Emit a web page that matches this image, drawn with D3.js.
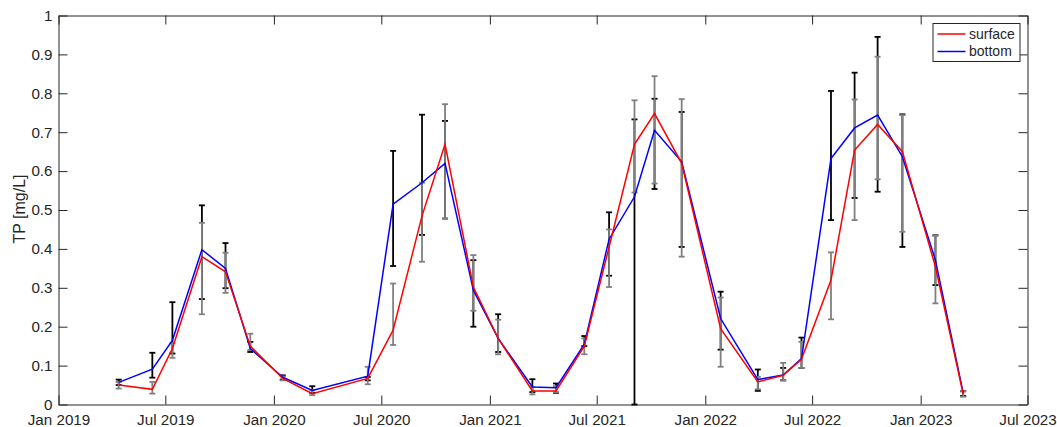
<!DOCTYPE html>
<html>
<head>
<meta charset="utf-8">
<script src="https://cdn.jsdelivr.net/npm/d3@7"></script>
<style>
  body { margin: 0; background: #fff; }
  svg { display: block; font-family: "Liberation Sans", Arial, sans-serif; }
</style>
</head>
<body>
<div id="chart"></div>
<script>
// sampling dates
var dates = [
  "2019-04-13", "2019-06-09", "2019-07-13", "2019-09-01", "2019-10-11", "2019-11-22",
  "2020-01-16", "2020-03-06", "2020-06-08", "2020-07-21", "2020-09-08", "2020-10-17",
  "2020-12-04", "2021-01-15", "2021-03-14", "2021-04-23", "2021-06-10", "2021-07-22",
  "2021-09-03", "2021-10-07", "2021-11-22", "2022-01-27", "2022-03-31", "2022-05-13",
  "2022-06-13", "2022-08-02", "2022-09-11", "2022-10-20", "2022-12-01", "2023-01-26",
  "2023-03-14"
];

var surface = [0.050, 0.039, 0.144, 0.380, 0.341, 0.150, 0.067, 0.028, 0.067, 0.191, 0.485,
  0.669, 0.302, 0.170, 0.035, 0.035, 0.150, 0.405, 0.669, 0.748, 0.620, 0.195, 0.058, 0.075,
  0.116, 0.320, 0.654, 0.720, 0.650, 0.354, 0.027];
var surfaceLow = [0.041, 0.028, 0.120, 0.232, 0.287, 0.140, 0.062, 0.024, 0.052, 0.153, 0.367,
  0.478, 0.241, 0.129, 0.026, 0.032, 0.129, 0.302, 0.545, 0.568, 0.380, 0.097, 0.039, 0.062,
  0.094, 0.219, 0.474, 0.579, 0.444, 0.260, 0.020];
var surfaceHigh = [0.058, 0.058, 0.158, 0.467, 0.390, 0.182, 0.072, 0.037, 0.097, 0.311, 0.570,
  0.772, 0.384, 0.218, 0.045, 0.047, 0.170, 0.450, 0.782, 0.844, 0.785, 0.275, 0.071, 0.107,
  0.161, 0.391, 0.784, 0.894, 0.744, 0.434, 0.034];

var bottom = [0.057, 0.091, 0.165, 0.398, 0.350, 0.144, 0.070, 0.036, 0.073, 0.515, 0.570,
  0.620, 0.294, 0.170, 0.045, 0.043, 0.155, 0.425, 0.534, 0.705, 0.624, 0.221, 0.064, 0.076,
  0.118, 0.632, 0.711, 0.744, 0.637, 0.371, 0.030];
var bottomLow = [0.050, 0.069, 0.131, 0.271, 0.299, 0.135, 0.064, 0.030, 0.062, 0.356, 0.436,
  0.478, 0.200, 0.135, 0.032, 0.030, 0.150, 0.331, 0.000, 0.554, 0.405, 0.141, 0.035, 0.062,
  0.094, 0.474, 0.531, 0.547, 0.405, 0.307, 0.022];
var bottomHigh = [0.064, 0.133, 0.263, 0.512, 0.415, 0.161, 0.075, 0.047, 0.071, 0.652, 0.745,
  0.729, 0.371, 0.232, 0.065, 0.054, 0.176, 0.494, 0.733, 0.786, 0.752, 0.290, 0.090, 0.094,
  0.172, 0.806, 0.853, 0.945, 0.746, 0.435, 0.034];

var xTicks = ["2019-01-01", "2019-07-01", "2020-01-01", "2020-07-01", "2021-01-01",
  "2021-07-01", "2022-01-01", "2022-07-01", "2023-01-01", "2023-07-01"];
var yTicks = [0, 0.1, 0.2, 0.3, 0.4, 0.5, 0.6, 0.7, 0.8, 0.9, 1];

var seriesNames = ["surface", "bottom"];

var W = 1057, H = 427;
var margin = { top: 15.5, right: 29.5, bottom: 22.5, left: 58.5 };
var iw = W - margin.left - margin.right,
  ih = H - margin.top - margin.bottom;
var axisColor = "#262626";
var parse = d3.timeParse("%Y-%m-%d");

var x = d3.scaleTime()
  .domain([parse(xTicks[0]), parse(xTicks[xTicks.length - 1])])
  .range([0, iw]);
var y = d3.scaleLinear().domain([0, 1]).range([ih, 0]);

var svg = d3.select("#chart").append("svg")
  .attr("width", W)
  .attr("height", H);

var g = svg.append("g")
  .attr("transform", "translate(" + margin.left + "," + margin.top + ")");

var rows = dates.map(function (d, i) {
  return {
    date: parse(d),
    s: surface[i], sLo: surfaceLow[i], sHi: surfaceHigh[i],
    b: bottom[i], bLo: bottomLow[i], bHi: bottomHigh[i]
  };
});

// axes (ticks inward on all four sides)
var tickDates = xTicks.map(parse);
var fmt = d3.timeFormat("%b %Y");
var tl = 9;

var xb = g.append("g").attr("transform", "translate(0," + ih + ")")
  .call(d3.axisBottom(x).tickValues(tickDates).tickFormat(fmt).tickSizeInner(-tl).tickSizeOuter(0).tickPadding(10));
var xt = g.append("g")
  .call(d3.axisTop(x).tickValues(tickDates).tickFormat("").tickSizeInner(-tl).tickSizeOuter(0));
var yl = g.append("g")
  .call(d3.axisLeft(y).tickValues(yTicks).tickFormat(d3.format("")).tickSizeInner(-tl).tickSizeOuter(0).tickPadding(6));
var yr = g.append("g").attr("transform", "translate(" + iw + ",0)")
  .call(d3.axisRight(y).tickValues(yTicks).tickFormat("").tickSizeInner(-tl).tickSizeOuter(0));

[xb, xt, yl, yr].forEach(function (a) {
  a.select(".domain").attr("stroke", axisColor).attr("stroke-width", 1);
  a.selectAll(".tick line").attr("stroke", axisColor).attr("stroke-width", 1);
  a.selectAll(".tick text").attr("fill", axisColor)
    .style("font-size", "15.2px").style("font-family", "Liberation Sans, Arial, sans-serif");
});

// y label
svg.append("text")
  .attr("transform", "translate(24.5," + (margin.top + ih / 2 - 1) + ") rotate(-90)")
  .attr("text-anchor", "middle")
  .attr("fill", axisColor)
  .style("font-size", "16px")
  .text("TP [mg/L]");

// error bars
function errorBars(lo, hi, color, cls) {
  var cap = 3;
  var eb = g.append("g").attr("class", cls)
    .attr("stroke", color).attr("stroke-width", 1.8);
  var sel = eb.selectAll("g").data(rows).enter().append("g");
  sel.append("line")
    .attr("x1", function (d) { return x(d.date); })
    .attr("x2", function (d) { return x(d.date); })
    .attr("y1", function (d) { return y(d[lo]); })
    .attr("y2", function (d) { return y(d[hi]); });
  [lo, hi].forEach(function (k) {
    sel.append("line")
      .attr("x1", function (d) { return x(d.date) - cap; })
      .attr("x2", function (d) { return x(d.date) + cap; })
      .attr("y1", function (d) { return y(d[k]); })
      .attr("y2", function (d) { return y(d[k]); });
  });
}
errorBars("bLo", "bHi", "#000000", "err-bottom");
errorBars("sLo", "sHi", "#808080", "err-surface");

// lines
var lineB = d3.line().x(function (d) { return x(d.date); }).y(function (d) { return y(d.b); });
var lineS = d3.line().x(function (d) { return x(d.date); }).y(function (d) { return y(d.s); });

g.append("path").datum(rows)
  .attr("fill", "none").attr("stroke", "#0000ff").attr("stroke-width", 1.5)
  .attr("d", lineB);
g.append("path").datum(rows)
  .attr("fill", "none").attr("stroke", "#ff0000").attr("stroke-width", 1.5)
  .attr("d", lineS);

// legend
var legX = 933, legY = 23.5;
var leg = svg.append("g").attr("transform", "translate(" + legX + "," + legY + ")");
leg.append("rect")
  .attr("width", 87).attr("height", 38)
  .attr("fill", "#fff").attr("stroke", axisColor).attr("stroke-width", 1);
var legColors = ["#ff0000", "#0000ff"];
seriesNames.forEach(function (name, i) {
  var yy = 10.5 + i * 17.5;
  leg.append("line")
    .attr("x1", 4.5).attr("x2", 32.5).attr("y1", yy).attr("y2", yy)
    .attr("stroke", legColors[i]).attr("stroke-width", 1.5);
  leg.append("text")
    .attr("x", 36).attr("y", yy).attr("dy", "0.35em")
    .attr("fill", axisColor).style("font-size", "14px")
    .text(name);
});
</script>
</body>
</html>
